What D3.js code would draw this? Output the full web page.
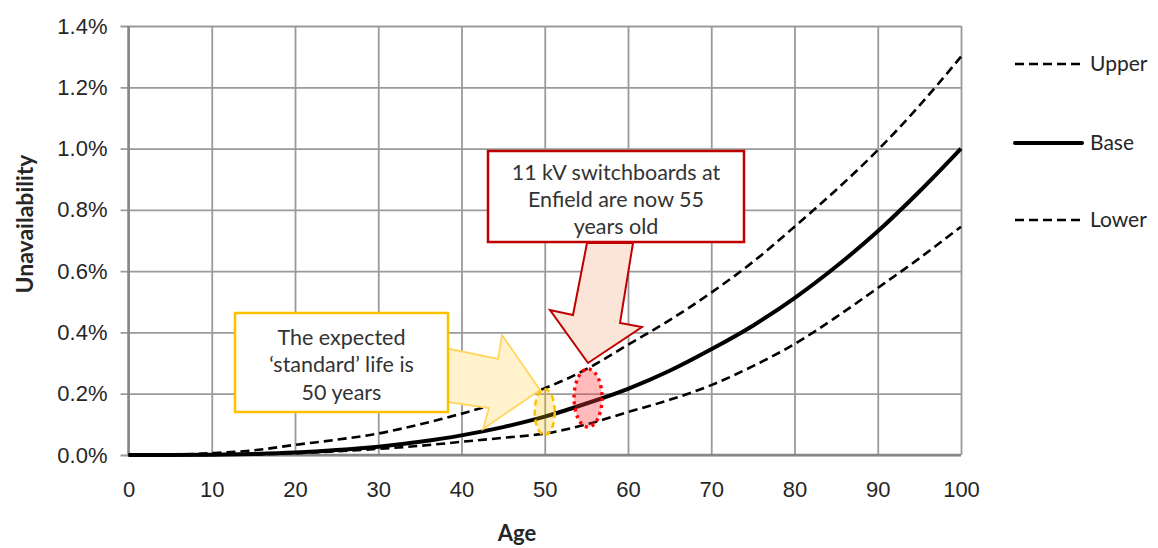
<!DOCTYPE html>
<html>
<head>
<meta charset="utf-8">
<script src="https://cdn.jsdelivr.net/npm/d3@7"></script>
<style>
  body { margin: 0; background: #fff; }
  svg { font-family: Lato, "Open Sans", sans-serif; }
</style>
</head>
<body>
<svg id="graf" width="1158" height="548"></svg>
<script>
// valores (unavailability en %)
const ages = [0, 5, 10, 15, 20, 25, 30, 35, 40, 45, 50, 55, 60, 65, 70, 75, 80, 85, 90, 95, 100];
const baseVals = [0, 0.0002, 0.001, 0.0035, 0.008, 0.016, 0.027, 0.043, 0.064, 0.091, 0.125, 0.168, 0.216, 0.275, 0.345, 0.422, 0.512, 0.615, 0.73, 0.86, 1.0];
const upperVals = [0, 0.001, 0.006, 0.015, 0.033, 0.05, 0.07, 0.1, 0.135, 0.175, 0.218, 0.28, 0.36, 0.44, 0.53, 0.63, 0.745, 0.865, 0.995, 1.14, 1.3];
const lowerVals = [0, 0, 0.0005, 0.002, 0.006, 0.012, 0.02, 0.03, 0.043, 0.056, 0.07, 0.1, 0.14, 0.18, 0.228, 0.29, 0.362, 0.45, 0.545, 0.642, 0.745];
const xTicks = [0, 10, 20, 30, 40, 50, 60, 70, 80, 90, 100];
const yTicks = [0, 0.2, 0.4, 0.6, 0.8, 1.0, 1.2, 1.4];
const seriesNames = ["Upper", "Base", "Lower"];

const svg = d3.select("#graf");
const x = d3.scaleLinear().domain([0, 100]).range([128.5, 961]);
const y = d3.scaleLinear().domain([0, 1.4]).range([455, 26]);

// grilla
const gy = svg.append("g").attr("transform", `translate(${x(0)},0)`)
  .call(d3.axisLeft(y).tickValues(yTicks).tickSize(-(x(100) - x(0))).tickFormat(d => d.toFixed(1) + "%"));
gy.select(".domain").remove();
gy.selectAll("line").attr("x1", -8).attr("stroke", "#9a9a9a").attr("stroke-width", 1.8);
gy.selectAll("text").attr("x", -21).attr("fill", "#262626").attr("font-size", 22);

const gx = svg.append("g").attr("transform", `translate(0,${y(0)})`)
  .call(d3.axisBottom(x).tickValues(xTicks).tickSize(-(y(0) - y(1.4))));
gx.select(".domain").remove();
gx.selectAll("line").attr("stroke", "#9a9a9a").attr("stroke-width", 1.8);
gx.selectAll("text").attr("y", 26).attr("fill", "#262626").attr("font-size", 22);

// ejes
svg.append("line").attr("x1", x(0)).attr("x2", x(0)).attr("y1", y(1.4)).attr("y2", y(0))
  .attr("stroke", "#868686").attr("stroke-width", 2.5);
svg.append("line").attr("x1", x(0)).attr("x2", x(100)).attr("y1", y(0)).attr("y2", y(0))
  .attr("stroke", "#868686").attr("stroke-width", 2.5);

// titulos
svg.append("text").attr("transform", "translate(33,224) rotate(-90)")
  .attr("text-anchor", "middle").attr("font-weight", "bold").attr("font-size", 23)
  .attr("fill", "#262626").text("Unavailability");
svg.append("text").attr("x", 517).attr("y", 541)
  .attr("text-anchor", "middle").attr("font-weight", "bold").attr("font-size", 22)
  .attr("fill", "#262626").text("Age");

// curvas
const line = vals => d3.line().x((d, i) => x(ages[i])).y(d => y(d)).curve(d3.curveMonotoneX)(vals);
const estilos = {
  Upper: { vals: upperVals, w: 2.6, dash: "9,5" },
  Base: { vals: baseVals, w: 4, dash: null },
  Lower: { vals: lowerVals, w: 2.6, dash: "9,5" }
};
seriesNames.forEach(n => {
  const s = estilos[n];
  svg.append("path").attr("d", line(s.vals)).attr("fill", "none")
    .attr("stroke", "#000").attr("stroke-width", s.w)
    .attr("stroke-dasharray", s.dash);
});

// leyenda
const legY = { Upper: 64, Base: 143, Lower: 220 };
seriesNames.forEach(n => {
  const s = estilos[n];
  svg.append("line").attr("x1", 1015).attr("x2", 1082).attr("y1", legY[n]).attr("y2", legY[n])
    .attr("stroke", "#000").attr("stroke-width", s.w).attr("stroke-dasharray", s.dash)
    .attr("stroke-linecap", n === "Base" ? "round" : null);
  svg.append("text").attr("x", 1090).attr("y", legY[n] + 7).attr("font-size", 21)
    .attr("fill", "#262626").text(n);
});

// anotaciones
svg.append("polygon")
  .attr("points", [[440, 347], [498, 359], [502, 335], [540, 390], [483, 429], [489, 408], [440, 401]].join(" "))
  .attr("fill", "#fff2cc").attr("stroke", "#ffd75e").attr("stroke-width", 1.8);

svg.append("polygon")
  .attr("points", [[587, 243], [633, 243], [620, 323], [642, 327], [588, 363], [550, 310], [573, 315]].join(" "))
  .attr("fill", "#fbe4d8").attr("stroke", "#c00000").attr("stroke-width", 2);

svg.append("ellipse").attr("cx", x(50)).attr("cy", y(0.14)).attr("rx", 10).attr("ry", 23)
  .attr("fill", "rgba(255,192,0,0.25)").attr("stroke", "#ffc000").attr("stroke-width", 2.5)
  .attr("stroke-dasharray", "6,4");
svg.append("ellipse").attr("cx", x(55.2)).attr("cy", y(0.186)).attr("rx", 14).attr("ry", 29)
  .attr("fill", "rgba(255,60,60,0.35)").attr("stroke", "#ff0000").attr("stroke-width", 3.4)
  .attr("stroke-dasharray", "3,4");

function caja(x0, y0, w, h, color, lineas, ly) {
  svg.append("rect").attr("x", x0).attr("y", y0).attr("width", w).attr("height", h)
    .attr("fill", "#fff").attr("stroke", color).attr("stroke-width", 2.5);
  lineas.forEach((t, i) => {
    svg.append("text").attr("x", x0 + w / 2).attr("y", ly[i]).attr("text-anchor", "middle")
      .attr("font-size", 21.5).attr("fill", "#333").text(t);
  });
}
caja(235, 313, 213, 99, "#ffc000", ["The expected", "\u2018standard\u2019 life is", "50 years"], [345, 372, 400]);
caja(488, 151, 256, 91, "#c00000", ["11 kV switchboards at", "Enfield are now 55", "years old"], [180, 207, 234]);
</script>
</body>
</html>
